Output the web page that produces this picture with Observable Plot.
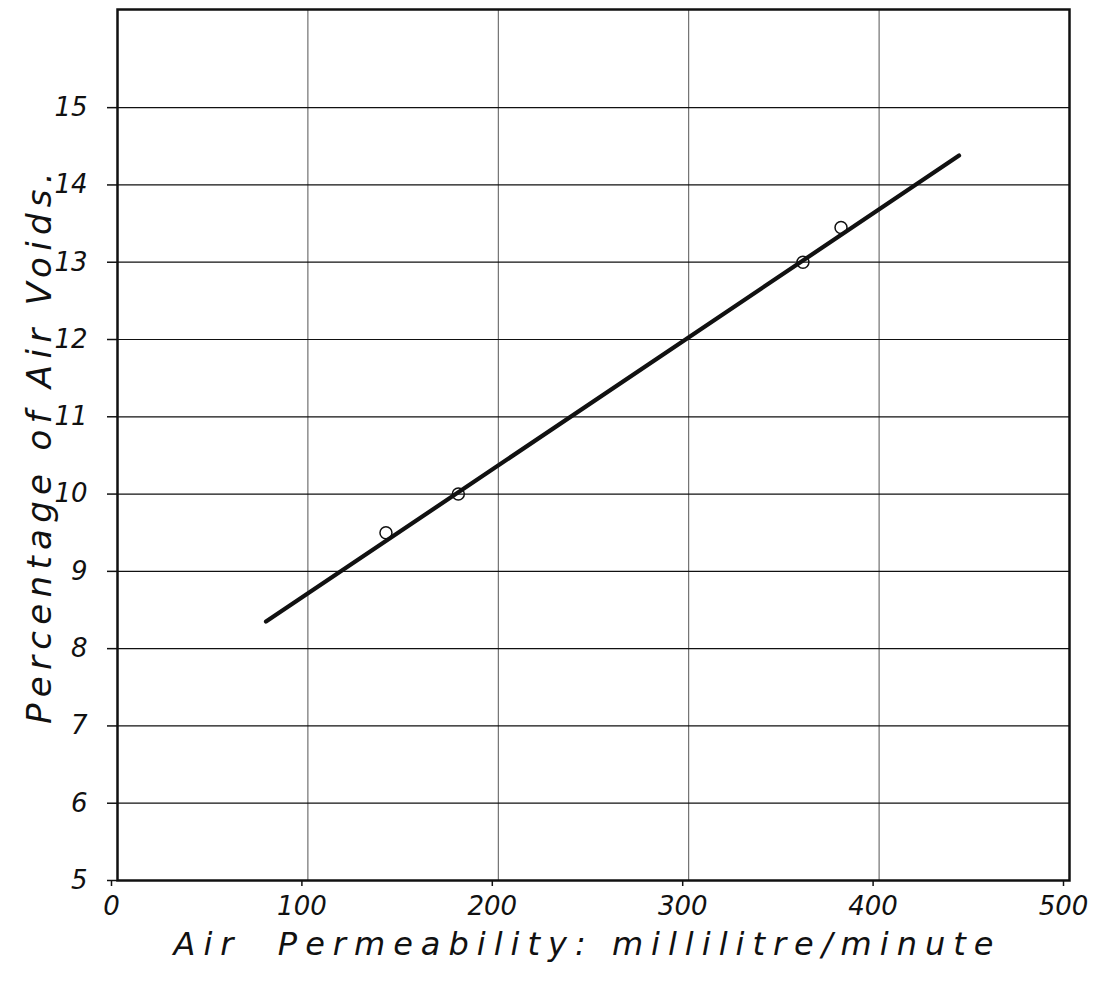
<!DOCTYPE html>
<html>
<head>
<meta charset="utf-8">
<script src="https://cdn.jsdelivr.net/npm/d3@7"></script>
<script src="https://cdn.jsdelivr.net/npm/@observablehq/plot@0.6"></script>
<style>
  html, body { margin: 0; padding: 0; background: #fff; }
  #chart { width: 1097px; height: 981px; }
</style>
</head>
<body>
<div id="chart"></div>
<script>
// Observed data points (air permeability, % air voids)
const permeability = [141, 179, 360, 380];
const airVoids = [9.5, 10.0, 13.0, 13.45];

// Fitted straight line end points
const fitX = [78, 442];
const fitY = [8.35, 14.38];

// Axis ticks
const xTicks = [0, 100, 200, 300, 400, 500];
const yTicks = [5, 6, 7, 8, 9, 10, 11, 12, 13, 14, 15];

const xLabel = "Air  Permeability: millilitre/minute";
const yLabel = "Percentage of Air Voids.";

const points = permeability.map((x, i) => ({x, y: airVoids[i]}));
const fit = fitX.map((x, i) => ({x, y: fitY[i]}));

const font = "'DejaVu Sans', sans-serif";

const plot = Plot.plot({
  width: 1097,
  height: 981,
  marginLeft: 117,
  marginRight: 28,
  marginTop: 9,
  marginBottom: 101,
  style: {fontFamily: font, fontStyle: "italic", background: "#fff", color: "#111"},
  x: {domain: [0, 500]},
  y: {domain: [5, 16.27]},
  marks: [
    Plot.ruleX(xTicks.slice(1, -1), {stroke: "#555", strokeWidth: 1}),
    Plot.ruleY(yTicks.slice(1), {stroke: "#111", strokeWidth: 1.2}),
    Plot.axisY(yTicks, {tickSize: 10, tickPadding: 20, fontSize: 26, tickFormat: d => String(d), label: null, stroke: "#111", strokeWidth: 1.5, fontWeight: 300}),
    Plot.axisX(xTicks, {tickSize: 6, tickPadding: 10, fontSize: 26, tickFormat: d => String(d), dx: -6, label: null, stroke: "#111", strokeWidth: 1.5, fontWeight: 300}),
    Plot.frame({stroke: "#111", strokeWidth: 2.5}),
    Plot.line(fit, {x: "x", y: "y", stroke: "#111", strokeWidth: 4.2}),
    Plot.dot(points, {x: "x", y: "y", r: 6, stroke: "#111", strokeWidth: 1.5, fill: "none"}),
    Plot.text([yLabel], {frameAnchor: "left", textAnchor: "middle", dx: -77, rotate: -90, fontSize: 34, fill: "#111", fontWeight: 300}),
    Plot.text([xLabel], {frameAnchor: "bottom", dy: 74, dx: -6, fontSize: 32, fill: "#111", fontWeight: 300})
  ]
});

document.getElementById("chart").appendChild(plot);

// Spread the hand-lettered axis titles
d3.select(plot).selectAll("text").each(function() {
  const t = this.textContent;
  if (t === xLabel) d3.select(this).attr("letter-spacing", "8px");
  if (t === yLabel) d3.select(this).attr("letter-spacing", "6.3px");
});
</script>
</body>
</html>
